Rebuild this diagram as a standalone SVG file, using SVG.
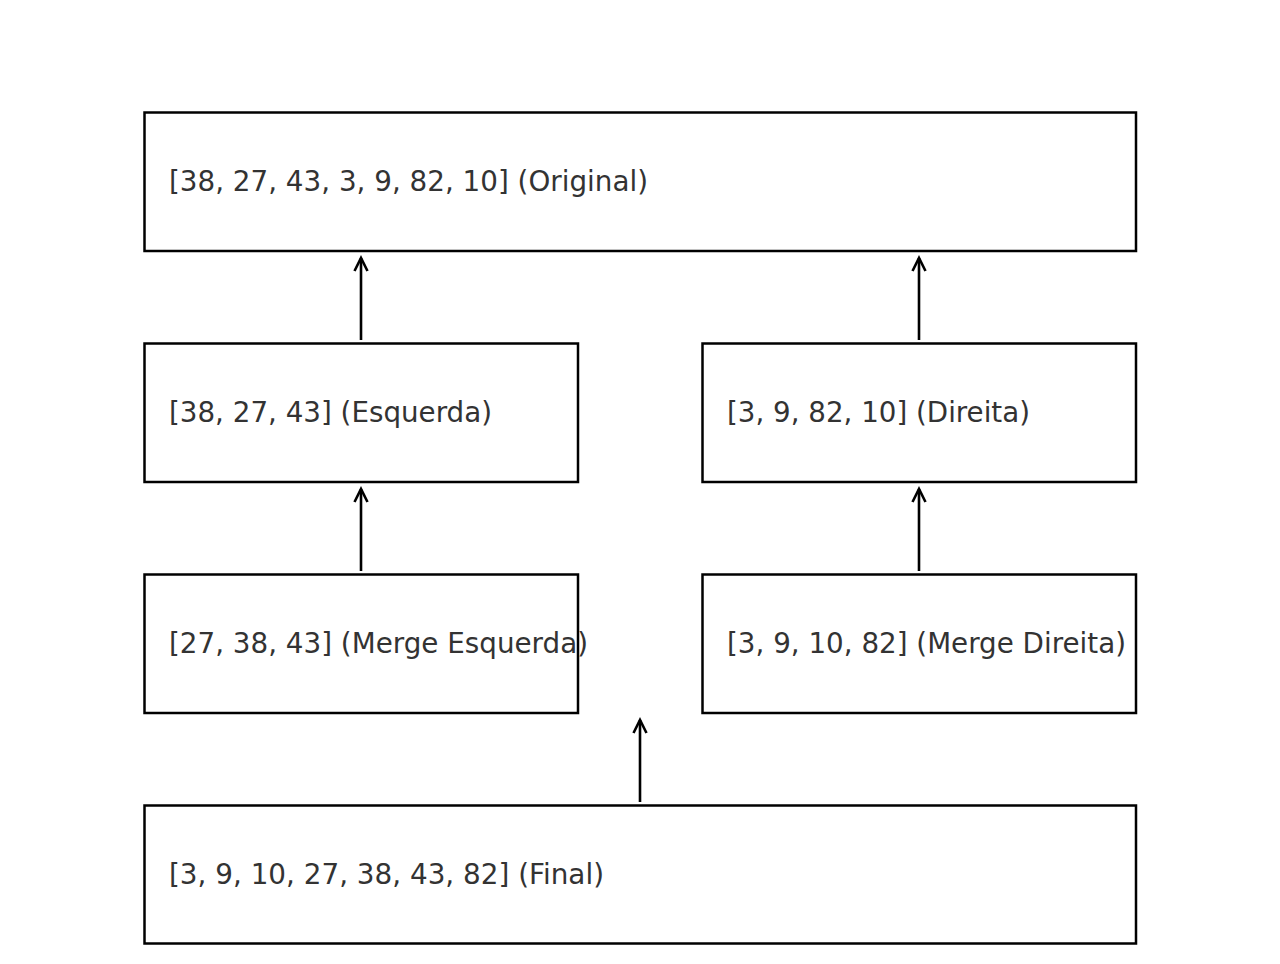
<svg xmlns="http://www.w3.org/2000/svg" width="1280" height="964" viewBox="0 0 1280 964">
<style>
.box{fill:#fff;stroke:#000;stroke-width:2.5}
.lbl{font-family:"DejaVu Sans",sans-serif;font-size:27.8px;fill:#333}
.conn{stroke:#000;stroke-width:2.6;fill:none}
.head{stroke:#000;stroke-width:2.6;fill:none;stroke-linecap:butt;stroke-linejoin:miter}
</style>
<rect width="1280" height="964" fill="#fff"/>
<g id="n-original"><rect class="box" x="144.5" y="112.5" width="991.5" height="138.5"/><text class="lbl" x="169" y="191" textLength="479" lengthAdjust="spacingAndGlyphs">[38, 27, 43, 3, 9, 82, 10] (Original)</text></g>
<g id="n-esquerda"><rect class="box" x="144.5" y="343.5" width="433.5" height="138.5"/><text class="lbl" x="169" y="422" textLength="323" lengthAdjust="spacingAndGlyphs">[38, 27, 43] (Esquerda)</text></g>
<g id="n-direita"><rect class="box" x="702.5" y="343.5" width="433.5" height="138.5"/><text class="lbl" x="727" y="422" textLength="303" lengthAdjust="spacingAndGlyphs">[3, 9, 82, 10] (Direita)</text></g>
<g id="n-merge-esq"><rect class="box" x="144.5" y="574.5" width="433.5" height="138.5"/><text class="lbl" x="169" y="653" textLength="419" lengthAdjust="spacingAndGlyphs">[27, 38, 43] (Merge Esquerda)</text></g>
<g id="n-merge-dir"><rect class="box" x="702.5" y="574.5" width="433.5" height="138.5"/><text class="lbl" x="727" y="653" textLength="399" lengthAdjust="spacingAndGlyphs">[3, 9, 10, 82] (Merge Direita)</text></g>
<g id="n-final"><rect class="box" x="144.5" y="805.5" width="991.5" height="138"/><text class="lbl" x="169" y="884" textLength="435" lengthAdjust="spacingAndGlyphs">[3, 9, 10, 27, 38, 43, 82] (Final)</text></g>
<g id="connectors">
<line class="conn" x1="361" y1="340" x2="361" y2="258"/><polyline class="head" points="354.5,271 361,258 367.5,271"/>
<line class="conn" x1="919" y1="340" x2="919" y2="258"/><polyline class="head" points="912.5,271 919,258 925.5,271"/>
<line class="conn" x1="361" y1="571" x2="361" y2="489"/><polyline class="head" points="354.5,502 361,489 367.5,502"/>
<line class="conn" x1="919" y1="571" x2="919" y2="489"/><polyline class="head" points="912.5,502 919,489 925.5,502"/>
<line class="conn" x1="640" y1="802" x2="640" y2="720"/><polyline class="head" points="633.5,733 640,720 646.5,733"/>
</g>
</svg>
